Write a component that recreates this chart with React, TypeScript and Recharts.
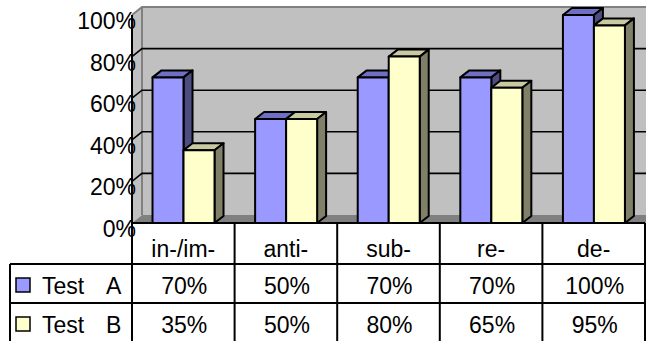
import { BarChart, Bar, XAxis, YAxis, CartesianGrid } from 'recharts'

const CATEGORIES = ['in-/im-', 'anti-', 'sub-', 're-', 'de-']
const TEST_A = [70, 50, 70, 70, 100]
const TEST_B = [35, 50, 80, 65, 95]
const Y_TICKS = [0, 20, 40, 60, 80, 100]
const SERIES = ['Test A', 'Test B']

const data = CATEGORIES.map((name, i) => ({ name, a: TEST_A[i], b: TEST_B[i] }))

// layout
const W = 646
const H = 341
const LEFT = 132
const TOP = 15
const BOTTOM = 223
const RIGHT = 645
const BAND = (RIGHT - LEFT) / CATEGORIES.length
const WALL_DX = 10
const WALL_DY = 8
const ROW1 = 264
const ROW2 = 303
const TABLE_LEFT = 10
const FONT = "'Liberation Sans', Arial, sans-serif"

const COLORS = {
  a: { front: '#9999ff', top: '#6f6fc4', side: '#4d4d82' },
  b: { front: '#ffffcc', top: '#cacaa2', side: '#808068' },
}

function Bar3D(props: any) {
  const { x, y, width, height, front, top, side } = props
  if (height == null || width == null) return null
  const d = 9
  const e = 7
  return (
    <g stroke="#000" strokeWidth={2} strokeLinejoin="round">
      <polygon points={`${x},${y} ${x + d},${y - e} ${x + width + d},${y - e} ${x + width},${y}`} fill={top} />
      <polygon
        points={`${x + width},${y} ${x + width + d},${y - e} ${x + width + d},${y + height - e} ${x + width},${y + height}`}
        fill={side}
      />
      <rect x={x} y={y} width={width} height={height} fill={front} />
    </g>
  )
}

function GridLine(props: any) {
  const { y1 } = props
  if (y1 <= TOP + 0.5 || y1 >= BOTTOM - 0.5) return <g />
  return (
    <polyline
      points={`${LEFT},${y1} ${LEFT + WALL_DX},${y1 - WALL_DY} ${W},${y1 - WALL_DY}`}
      fill="none"
      stroke="#000"
      strokeWidth={1.6}
    />
  )
}

function YTick(props: any) {
  const { y, payload } = props
  return (
    <text x={136} y={y + 14} textAnchor="end" fontFamily={FONT} fontSize={23} fill="#000">
      {`${payload.value}%`}
    </text>
  )
}

function TableTick(props: any) {
  const { x, payload } = props
  const i = props.index ?? payload.index
  const l = x - BAND / 2
  const r = x + BAND / 2
  const line = { stroke: '#000', strokeWidth: 2 }
  const colors = [COLORS.a.front, COLORS.b.front]
  return (
    <g fontFamily={FONT} fontSize={23} fill="#000">
      <line x1={r} y1={BOTTOM} x2={r} y2={H} {...line} />
      <line x1={l} y1={ROW1} x2={r} y2={ROW1} {...line} />
      <line x1={l} y1={ROW2} x2={r} y2={ROW2} {...line} />
      <text x={x} y={257} textAnchor="middle">{payload.value}</text>
      <text x={x + 1} y={294} textAnchor="middle">{`${TEST_A[i]}%`}</text>
      <text x={x + 1} y={333} textAnchor="middle">{`${TEST_B[i]}%`}</text>
      {i === 0 && (
        <g>
          <line x1={LEFT} y1={BOTTOM} x2={LEFT} y2={H} {...line} />
          <line x1={TABLE_LEFT} y1={ROW1} x2={TABLE_LEFT} y2={H} {...line} />
          <line x1={TABLE_LEFT} y1={ROW1} x2={LEFT} y2={ROW1} {...line} />
          <line x1={TABLE_LEFT} y1={ROW2} x2={LEFT} y2={ROW2} {...line} />
          {SERIES.map((s, k) => {
            const base = k === 0 ? 294 : 333
            const [word, letter] = s.split(' ')
            return (
              <g key={s}>
                <rect x={16} y={base - 16} width={14} height={14} fill={colors[k]} stroke="#000" strokeWidth={1.5} />
                <text x={42} y={base}>
                  <tspan>{word}</tspan>
                  <tspan x={106}>{letter}</tspan>
                </text>
              </g>
            )
          })}
        </g>
      )}
    </g>
  )
}

export default function App() {
  return (
    <div style={{ position: 'absolute', left: 0, top: 0, width: W, height: H, background: '#fff' }}>
      <svg width={W} height={H} style={{ position: 'absolute', left: 0, top: 0 }}>
        <polygon
          points={`${LEFT},${TOP} ${LEFT + WALL_DX},${TOP - WALL_DY} ${LEFT + WALL_DX},${BOTTOM - WALL_DY} ${LEFT},${BOTTOM}`}
          fill="#c0c0c0"
        />
        <rect x={LEFT + WALL_DX} y={TOP - WALL_DY} width={W - LEFT - WALL_DX} height={BOTTOM - TOP} fill="#c0c0c0" />
        <polygon
          points={`${LEFT},${BOTTOM} ${LEFT + WALL_DX},${BOTTOM - WALL_DY} ${W},${BOTTOM - WALL_DY} ${W},${BOTTOM}`}
          fill="#808080"
        />
        <polyline
          points={`${LEFT},${TOP} ${LEFT + WALL_DX},${TOP - WALL_DY} ${W},${TOP - WALL_DY}`}
          fill="none"
          stroke="#808080"
          strokeWidth={2}
        />
        <line x1={LEFT + WALL_DX} y1={TOP - WALL_DY} x2={LEFT + WALL_DX} y2={BOTTOM - WALL_DY} stroke="#808080" strokeWidth={2} />
      </svg>
      <div style={{ position: 'absolute', left: 0, top: 0 }}>
        <BarChart
          width={W}
          height={H}
          data={data}
          margin={{ top: TOP, right: W - RIGHT, bottom: 0, left: 0 }}
          barCategoryGap="20%"
          barGap={0}
        >
          <CartesianGrid vertical={false} horizontal={GridLine} />
          <XAxis
            dataKey="name"
            height={H - BOTTOM}
            interval={0}
            axisLine={{ stroke: '#000', strokeWidth: 2 }}
            tickLine={false}
            tickSize={0}
            tickMargin={0}
            tick={TableTick}
          />
          <YAxis
            width={LEFT}
            domain={[0, 100]}
            ticks={Y_TICKS}
            axisLine={{ stroke: '#000', strokeWidth: 2 }}
            tickLine={false}
            tick={YTick}
          />
          <Bar
            dataKey="a"
            name={SERIES[0]}
            isAnimationActive={false}
            shape={(p: any) => <Bar3D {...p} {...COLORS.a} />}
          />
          <Bar
            dataKey="b"
            name={SERIES[1]}
            isAnimationActive={false}
            shape={(p: any) => <Bar3D {...p} {...COLORS.b} />}
          />
        </BarChart>
      </div>
    </div>
  )
}
